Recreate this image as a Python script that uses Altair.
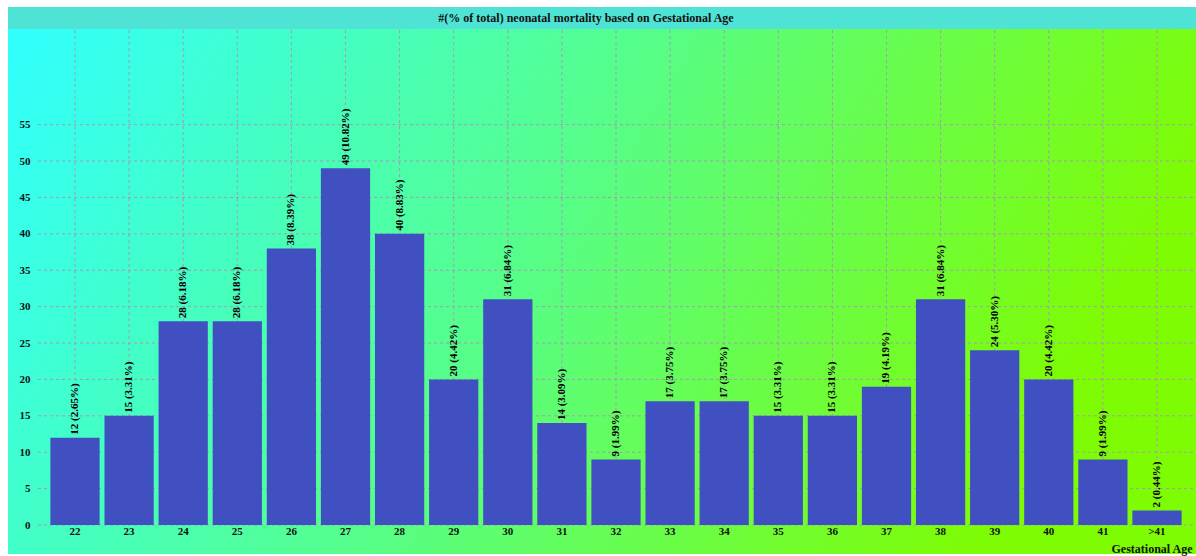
import altair as alt
import pandas as pd

ages = ["22", "23", "24", "25", "26", "27", "28", "29", "30", "31", "32",
        "33", "34", "35", "36", "37", "38", "39", "40", "41", ">41"]
deaths = [12, 15, 28, 28, 38, 49, 40, 20, 31, 14, 9, 17, 17, 15, 15, 19, 31, 24, 20, 9, 2]
pcts = ["2.65", "3.31", "6.18", "6.18", "8.39", "10.82", "8.83", "4.42", "6.84", "3.09", "1.99",
        "3.75", "3.75", "3.31", "3.31", "4.19", "6.84", "5.30", "4.42", "1.99", "0.44"]
y_ticks = [0, 5, 10, 15, 20, 25, 30, 35, 40, 45, 50, 55]
title_text = "#(% of total) neonatal mortality based on Gestational Age"

df = pd.DataFrame({
    "age": ages,
    "deaths": deaths,
    "label": [f"{d} ({p}%)" for d, p in zip(deaths, pcts)],
})
ydf = pd.DataFrame({"tick": y_ticks})
tdf = pd.DataFrame({"t": [title_text]})

W, H = 1156, 495
FONT = "Liberation Serif"
GRID = "#a898b4"

x_scale = alt.Scale(paddingInner=0.09, paddingOuter=0.229)
y_scale = alt.Scale(domain=[0, 68], nice=False)

bg = alt.Chart(tdf).mark_rect(
    color=alt.LinearGradient(
        gradient="linear",
        stops=[alt.GradientStop(color="#30FFFF", offset=0),
               alt.GradientStop(color="#55FE8C", offset=0.5),
               alt.GradientStop(color="#7EFC04", offset=1)],
        x1=0, x2=1, y1=0, y2=0.25),
).encode(x=alt.value(-30), x2=alt.value(1158), y=alt.value(-1), y2=alt.value(524))

titlebar = alt.Chart(tdf).mark_rect(color="#4FE3D6").encode(
    x=alt.value(-30), x2=alt.value(1158), y=alt.value(-23), y2=alt.value(-1))

title = alt.Chart(tdf).mark_text(
    font=FONT, fontWeight="bold", fontSize=12, color="#111",
    align="center", baseline="middle",
).encode(text="t:N", x=alt.value(548), y=alt.value(-12))

vgrid = alt.Chart(df).mark_rule(color=GRID, strokeDash=[3, 3], strokeWidth=1).encode(
    x=alt.X("age:N", sort=ages, scale=x_scale), y=alt.value(0), y2=alt.value(H))

hgrid = alt.Chart(ydf).mark_rule(color=GRID, strokeDash=[3, 3], strokeWidth=1).encode(
    y=alt.Y("tick:Q", scale=y_scale), x=alt.value(0), x2=alt.value(W))

x_enc = alt.X("age:N", sort=ages, scale=x_scale,
              axis=alt.Axis(title="Gestational Age", labelAngle=0, labelAlign="center",
                            ticks=False, domain=False,
                            labelFont=FONT, labelFontWeight="bold", labelFontSize=11,
                            labelColor="#111", labelPadding=6,
                            titleFont=FONT, titleFontWeight="bold", titleFontSize=12,
                            titleColor="#111", titleX=W - 2, titleY=23,
                            titleAlign="right", titleBaseline="middle",
                            grid=False, zindex=1))
y_enc = alt.Y("deaths:Q", scale=y_scale,
              axis=alt.Axis(title=None, values=y_ticks, ticks=False, domain=False,
                            labelFont=FONT, labelFontWeight="bold", labelFontSize=11,
                            labelColor="#111", labelPadding=8,
                            grid=False, zindex=1))

bars = alt.Chart(df).mark_bar(color="#4150C0").encode(x=x_enc, y=y_enc)

labels = alt.Chart(df).mark_text(
    angle=270, align="left", baseline="middle", dx=3,
    font=FONT, fontWeight="bold", fontSize=11, color="#000",
).encode(x=alt.X("age:N", sort=ages), y="deaths:Q", text="label:N")

chart = alt.layer(bg, titlebar, title, vgrid, hgrid, bars, labels).properties(
    width=W, height=H,
    autosize=alt.AutoSizeParams(type="none"),
    padding={"left": 38, "top": 30, "right": 2, "bottom": 31},
).configure_view(stroke=None).configure(background="white")

chart.save("out.html", embed_options={"renderer": "svg", "actions": False})
